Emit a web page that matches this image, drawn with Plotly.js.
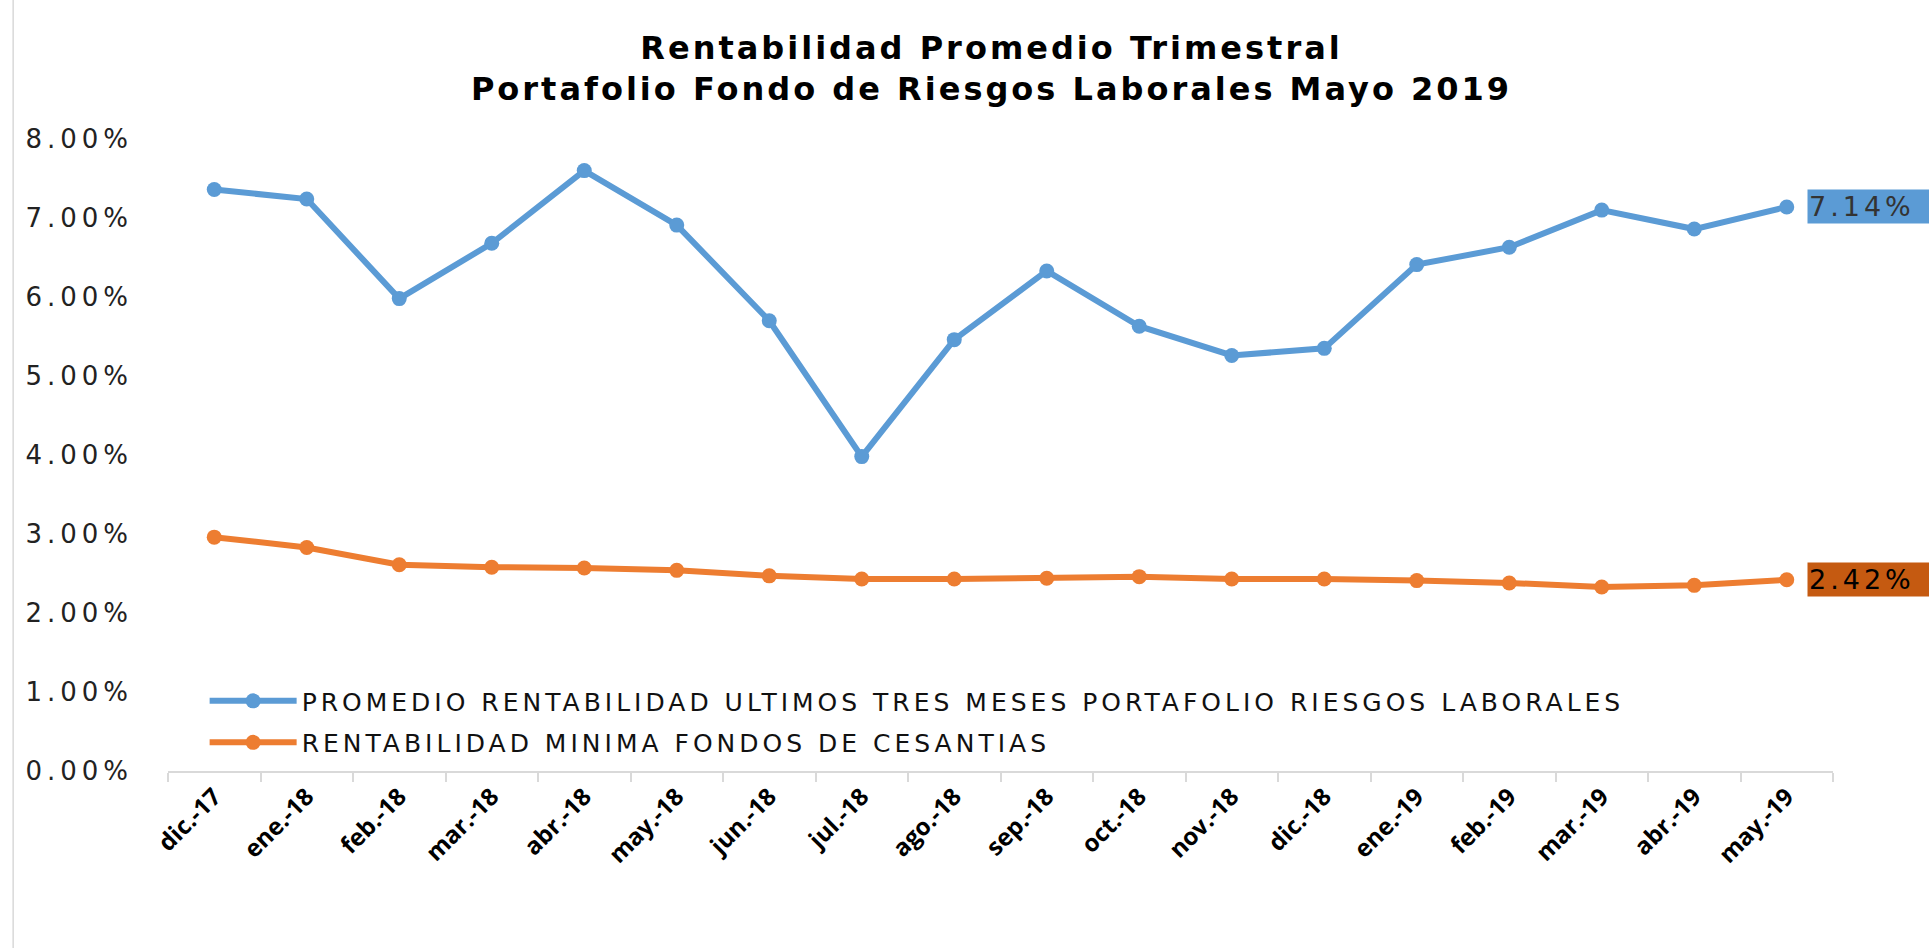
<!DOCTYPE html>
<html>
<head>
<meta charset="utf-8">
<script src="https://cdn.plot.ly/plotly-3.0.1.min.js"></script>
<style>
  html, body { margin: 0; padding: 0; background: #fff; }
  #chart { width: 1929px; height: 949px; }
  /* the reference text is drawn wide, open it up a bit */
  .gtitle { letter-spacing: 3px; }
  .legendtext { letter-spacing: 4px; }
  .ytick text { letter-spacing: 5px; }
  .annotation-text { letter-spacing: 4px; }
</style>
</head>
<body>
<div id="chart"></div>
<script>
// months on the x axis
const months = ['dic.-17', 'ene.-18', 'feb.-18', 'mar.-18', 'abr.-18', 'may.-18', 'jun.-18',
  'jul.-18', 'ago.-18', 'sep.-18', 'oct.-18', 'nov.-18', 'dic.-18', 'ene.-19', 'feb.-19',
  'mar.-19', 'abr.-19', 'may.-19'];

// promedio rentabilidad ultimos tres meses (%)
const promedio = [7.36, 7.24, 5.98, 6.68, 7.60, 6.91, 5.70, 3.98, 5.46, 6.33, 5.63, 5.26,
  5.35, 6.41, 6.63, 7.10, 6.86, 7.14];

// rentabilidad minima cesantias (%)
const minima = [2.96, 2.83, 2.61, 2.58, 2.57, 2.54, 2.47, 2.43, 2.43, 2.44, 2.46, 2.43,
  2.43, 2.41, 2.38, 2.33, 2.35, 2.42];

const names = ['PROMEDIO RENTABILIDAD ULTIMOS TRES MESES PORTAFOLIO RIESGOS LABORALES',
  'RENTABILIDAD MINIMA FONDOS DE CESANTIAS'];

const blue = '#5b9bd5';
const orange = '#ed7d31';

const data = [
  { x: months, y: promedio, name: names[0], mode: 'lines+markers', legendgroup: 'a',
    line: { color: blue, width: 6 }, marker: { color: blue, size: 15 } },
  { x: months, y: minima, name: names[1], mode: 'lines+markers', legendgroup: 'b',
    line: { color: orange, width: 6 }, marker: { color: orange, size: 15 } }
];

const last = months.length - 1;

const layout = {
  width: 1929,
  height: 949,
  margin: { l: 168, r: 96, t: 139, b: 178 },
  paper_bgcolor: '#fff',
  plot_bgcolor: '#fff',
  showlegend: true,
  font: { family: 'DejaVu Sans', color: '#333' },
  title: {
    text: '<b>Rentabilidad Promedio Trimestral</b><br><b>Portafolio Fondo de Riesgos Laborales Mayo 2019</b>',
    font: { family: 'DejaVu Sans', size: 32, color: '#000' },
    x: 0.514, xanchor: 'center',
    y: 0.938, yanchor: 'middle', yref: 'container'
  },
  xaxis: {
    type: 'category',
    range: [-0.5, months.length - 0.5],
    showgrid: false,
    showline: true, linecolor: '#d9d9d9', linewidth: 2,
    ticks: 'outside', tickson: 'boundaries', ticklen: 9, tickcolor: '#d9d9d9', tickwidth: 2,
    tickangle: -45,
    tickfont: { family: 'Open Sans', size: 24, color: '#000', weight: 'bold' },
    zeroline: false
  },
  yaxis: {
    range: [0, 8],
    dtick: 1,
    tickformat: '.2f', ticksuffix: '%',
    showgrid: false, zeroline: false, showline: false,
    ticklabelstandoff: 34,
    tickfont: { family: 'DejaVu Sans', size: 26, color: '#222' }
  },
  legend: {
    x: 0.022, xanchor: 'left',
    y: 0.147, yanchor: 'top',
    bgcolor: 'rgba(0,0,0,0)',
    itemwidth: 87,
    font: { family: 'DejaVu Sans', size: 25, color: '#111' },
    traceorder: 'grouped',
    tracegroupgap: 6
  },
  annotations: [
    { x: months[last], y: promedio[last], text: promedio[last].toFixed(2) + '%',
      xanchor: 'left', xshift: 20, showarrow: false, bgcolor: blue, width: 135, align: 'left',
      borderpad: 1, font: { family: 'DejaVu Sans', size: 27, color: '#333' } },
    { x: months[last], y: minima[last], text: minima[last].toFixed(2) + '%',
      xanchor: 'left', xshift: 20, showarrow: false, bgcolor: '#c55a11', width: 135, align: 'left',
      borderpad: 1, font: { family: 'DejaVu Sans', size: 27, color: '#000' } }
  ],
  shapes: [
    { type: 'line', xref: 'paper', yref: 'paper', x0: -0.093, x1: -0.093, y0: -0.28, y1: 1.25,
      line: { color: '#d9d9d9', width: 1.5 } }
  ]
};

Plotly.newPlot('chart', data, layout, { displayModeBar: false });
</script>
</body>
</html>
